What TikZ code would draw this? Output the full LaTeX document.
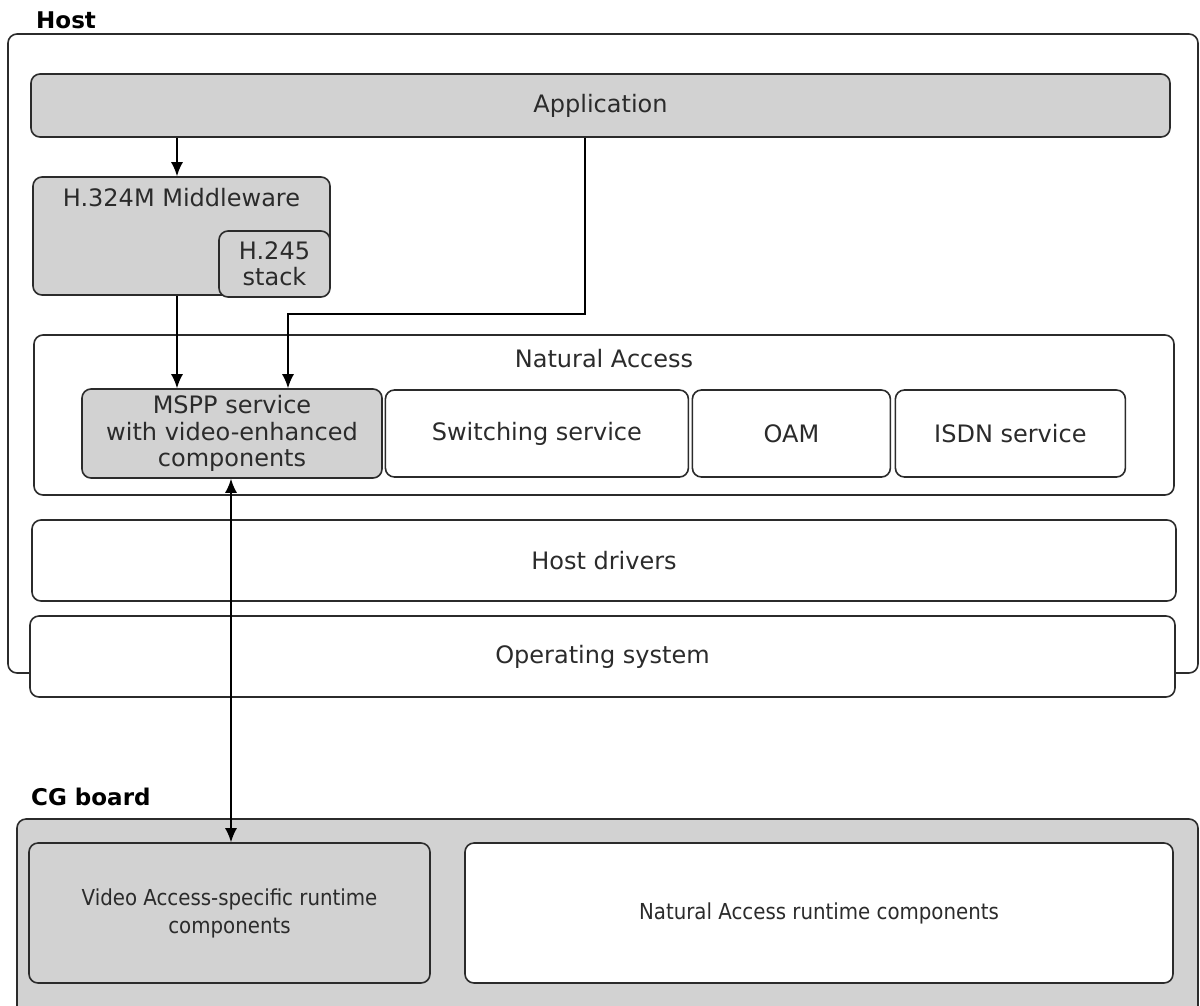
\documentclass[tikz,border=0pt]{standalone}
\usepackage{fontspec}
\usepackage{tikz}
\usetikzlibrary{arrows.meta,positioning}
\newfontfamily\verd{DejaVu Sans}
\newfontfamily\verdcond{DejaVu Sans Condensed}
\definecolor{boxgray}{HTML}{D2D2D2}
\definecolor{linec}{HTML}{2B2B2B}

\begin{document}
\begin{tikzpicture}[x=1pt,y=-1pt,
        block/.style={draw=linec,line width=1.6pt,rounded corners=9pt,rectangle,inner sep=0pt,
                      align=center,text=linec,font={\verd\fontsize{24}{26.5}\selectfont}},
        grayblock/.style={block,fill=boxgray},
        whiteblock/.style={block,fill=white},
        lbl/.style={text=linec,inner sep=0pt,font={\verd\fontsize{24}{26.5}\selectfont}},
        title/.style={text=black,inner sep=0pt,font={\verd\bfseries\fontsize{23}{26}\selectfont}},
        arr/.style={draw=black,line width=1.6pt,-{Latex[length=14pt,width=12pt]}},
        dblarr/.style={arr,{Latex[length=14pt,width=12pt]}-{Latex[length=14pt,width=12pt]}}]
   \useasboundingbox (0,0) rectangle (1200,1005);

   % host side
   \node[whiteblock,minimum width=1190,minimum height=639] (host) at (603,353.5) {};
   \node[title,anchor=base west] (hostlbl) at (36,28) {Host};
   \node[grayblock,minimum width=1139,minimum height=63] (app) at (600.5,105.5) {Application};

   \node[grayblock,minimum width=297,minimum height=118] (mid) at (181.5,236) {};
   \node[lbl,anchor=base] (midlbl) at ([yshift=-30]mid.north) {H.324M Middleware};
   \node[grayblock,minimum width=111,minimum height=66] (stack) at (274.5,264) {H.245\\stack};

   \node[whiteblock,minimum width=1140,minimum height=160] (na) at (604,415) {};
   \node[lbl,anchor=base] (nalbl) at ([yshift=-33]na.north) {Natural Access};
   \node[grayblock,minimum width=300,minimum height=89] (mspp) at (232,433.5)
        {MSPP service\\with video-enhanced\\components};
   \node[whiteblock,minimum width=303,minimum height=87,right=1.8 of mspp] (sw) {Switching service};
   \node[whiteblock,minimum width=198,minimum height=87,right=2.4 of sw] (oam) {OAM};
   \node[whiteblock,minimum width=230,minimum height=87,right=3.4 of oam] (isdn) {ISDN service};

   \node[whiteblock,minimum width=1144,minimum height=81] (drv) at (604,560.5) {Host drivers};
   \node[whiteblock,minimum width=1145,minimum height=81] (os) at (602.5,656.5) {Operating system};

   % board side
   \node[grayblock,minimum width=1181,minimum height=211] (cg) at (607.5,924.5) {};
   \node[title,anchor=base west] (cglbl) at (31,805) {CG board};
   \node[grayblock,minimum width=401,minimum height=140,font={\verdcond\fontsize{22}{28}\selectfont}] (va)
        at (229.5,913) {Video Access-specific runtime\\components};
   \node[whiteblock,minimum width=708,minimum height=140,font={\verdcond\fontsize{22}{28}\selectfont}] (nar)
        at (819,913) {Natural Access runtime components};

   % connectors
   \coordinate (c1) at (177,0);
   \coordinate (c2) at (585,0);
   \coordinate (bend) at (288,314);
   \coordinate (c3) at (231,0);
   \draw[arr] (app.south -| c1) -- (mid.north -| c1);
   \draw[arr] (mid.south -| c1) -- (mspp.north -| c1);
   \draw[arr] (app.south -| c2) |- (bend) -- (mspp.north -| bend);
   \draw[dblarr] (mspp.south -| c3) -- (va.north -| c3);

\end{tikzpicture}
\end{document}
